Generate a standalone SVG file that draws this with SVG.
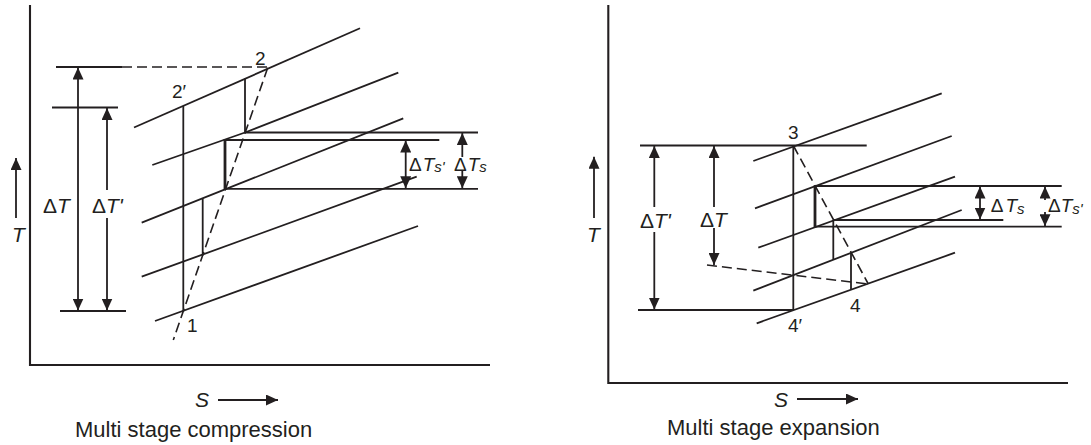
<svg xmlns="http://www.w3.org/2000/svg" width="1091" height="445" viewBox="0 0 1091 445">
<style>
  .ln{stroke:#231f20;stroke-width:1.8;fill:none}
  .ax{stroke:#231f20;stroke-width:2.1;fill:none}
  .thk{stroke:#231f20;stroke-width:2.8;fill:none}
  .ds{stroke:#231f20;stroke-width:1.6;fill:none;stroke-dasharray:10,5}
  .ar{stroke:#231f20;stroke-width:1.8;fill:none;marker-end:url(#ah)}
  .ar2{stroke:#231f20;stroke-width:1.8;fill:none;marker-start:url(#ah);marker-end:url(#ah)}
  text{font-family:"Liberation Sans",Arial,sans-serif;fill:#231f20}
  .lbl{font-size:21px}
  .num{font-size:19px}
  .sm{font-size:19px}
  .sub{font-size:15px;font-style:italic}
  .it{font-style:italic}
  .cap{font-size:22px}
</style>
<defs>
  <marker id="ah" viewBox="0 0 12 11" refX="12" refY="5.5" markerWidth="12" markerHeight="11" orient="auto-start-reverse" markerUnits="userSpaceOnUse">
    <path d="M0,0 L12,5.5 L0,11 z" fill="#231f20"/>
  </marker>
</defs>
<rect width="1091" height="445" fill="#ffffff"/>

<g id="compression">
  <g id="axes-left">
    <polyline class="ax" points="30,5 30,365 490,365"/>
    <line class="ar" x1="16" y1="218" x2="16" y2="158"/>
    <text class="lbl it" x="12" y="242">T</text>
    <line class="ar" x1="218" y1="400" x2="278" y2="400"/>
    <text class="lbl it" x="195" y="407">S</text>
    <text class="cap" x="75" y="437">Multi stage compression</text>
  </g>
  <g id="isobars-left">
    <line class="ln" x1="134" y1="127.5" x2="360" y2="28.3"/>
    <polyline class="ln" points="152.3,165 245,132.5 398.3,72.7"/>
    <line class="ln" x1="141.7" y1="222.7" x2="403.3" y2="118.3"/>
    <line class="ln" x1="141.7" y1="276.7" x2="416.7" y2="176.7"/>
    <line class="ln" x1="155" y1="321" x2="418" y2="226"/>
  </g>
  <g id="process-left">
    <line class="ln" x1="183.3" y1="106" x2="183.3" y2="311.5"/>
    <line class="ln" x1="245" y1="78.5" x2="245" y2="132.5"/>
    <line class="ln" x1="202.7" y1="198.5" x2="202.7" y2="255.5"/>
    <line class="ds" x1="267.7" y1="67.7" x2="173.3" y2="340"/>
    <line class="ln" x1="245" y1="132.5" x2="478" y2="132.5"/>
    <line class="ln" x1="225" y1="140" x2="439.3" y2="140"/>
    <line class="ln" x1="225" y1="188.8" x2="478" y2="188.8"/>
    <line class="thk" x1="225" y1="139" x2="225" y2="189.5"/>
  </g>
  <g id="dims-left">
    <line class="ln" x1="56" y1="67" x2="122" y2="67"/>
    <line class="ds" x1="122" y1="67" x2="267.7" y2="67"/>
    <line class="ln" x1="52" y1="107.5" x2="118" y2="107.5"/>
    <line class="ln" x1="60" y1="311" x2="126" y2="311"/>
    <line class="ar2" x1="78" y1="67.5" x2="78" y2="310.5"/>
    <line class="ar" x1="107" y1="190" x2="107" y2="108"/>
    <line class="ar" x1="107" y1="218" x2="107" y2="310.5"/>
    <line class="ar2" x1="405.7" y1="140.5" x2="405.7" y2="188.3"/>
    <line class="ar" x1="462.3" y1="157" x2="462.3" y2="133"/>
    <line class="ar" x1="462.3" y1="171" x2="462.3" y2="188.3"/>
  </g>
  <g id="labels-left">
    <text class="lbl" x="43" y="213">Δ<tspan class="it">T</tspan></text>
    <text class="lbl" x="92" y="213">Δ<tspan class="it">T'</tspan></text>
    <text class="sm" x="409" y="171">Δ<tspan class="it" dx="1">T</tspan><tspan class="sub" dy="1">s'</tspan></text>
    <text class="sm" x="454" y="171">Δ<tspan class="it" dx="1">T</tspan><tspan class="sub" dy="1">s</tspan></text>
    <text class="num" x="255" y="65">2</text>
    <text class="num" x="172" y="98">2′</text>
    <text class="num" x="187" y="332">1</text>
  </g>
</g>

<g id="expansion">
  <g id="axes-right">
    <polyline class="ax" points="608.3,5 608.3,383 1068,383"/>
    <line class="ar" x1="594" y1="218" x2="594" y2="156.7"/>
    <text class="lbl it" x="587" y="242">T</text>
    <line class="ar" x1="797" y1="399" x2="858" y2="399"/>
    <text class="lbl it" x="774" y="407">S</text>
    <text class="cap" x="667" y="435">Multi stage expansion</text>
  </g>
  <g id="isobars-right">
    <line class="ln" x1="753.3" y1="161" x2="941.7" y2="93.3"/>
    <line class="ln" x1="755" y1="208.3" x2="951.7" y2="136"/>
    <line class="ln" x1="758.3" y1="247.7" x2="955" y2="176.7"/>
    <line class="ln" x1="753.3" y1="290.7" x2="961.7" y2="210"/>
    <line class="ln" x1="756.7" y1="323.3" x2="955" y2="252.7"/>
  </g>
  <g id="process-right">
    <line class="ln" x1="793.3" y1="145.5" x2="793.3" y2="310"/>
    <line class="ds" x1="793.3" y1="145.5" x2="868.3" y2="284"/>
    <line class="ds" x1="707" y1="265" x2="868.3" y2="284"/>
    <line class="ln" x1="833.3" y1="220" x2="833.3" y2="259.5"/>
    <line class="ln" x1="851" y1="253" x2="851" y2="289.5"/>
    <line class="ln" x1="815" y1="186" x2="1061.7" y2="186"/>
    <line class="ln" x1="833.3" y1="220" x2="1003.3" y2="220"/>
    <line class="ln" x1="815" y1="226.7" x2="1061.7" y2="226.7"/>
    <line class="thk" x1="815" y1="185.3" x2="815" y2="227.4"/>
  </g>
  <g id="dims-right">
    <line class="ln" x1="640" y1="145.5" x2="866.7" y2="145.5"/>
    <line class="ln" x1="638" y1="310" x2="793.3" y2="310"/>
    <line class="ar" x1="654.3" y1="207" x2="654.3" y2="146"/>
    <line class="ar" x1="654.3" y1="232" x2="654.3" y2="309.5"/>
    <line class="ar" x1="714" y1="207" x2="714" y2="146"/>
    <line class="ar" x1="714" y1="228" x2="714" y2="265"/>
    <line class="ar2" x1="980" y1="186.5" x2="980" y2="219.5"/>
    <line class="ar" x1="1045" y1="200" x2="1045" y2="186.5"/>
    <line class="ar" x1="1045" y1="212" x2="1045" y2="226.2"/>
  </g>
  <g id="labels-right">
    <text class="lbl" x="640" y="228">Δ<tspan class="it">T'</tspan></text>
    <text class="lbl" x="700" y="227">Δ<tspan class="it">T</tspan></text>
    <text class="sm" x="990.7" y="212">Δ<tspan class="it" dx="2">T</tspan><tspan class="sub" dy="2">s</tspan></text>
    <text class="sm" x="1048" y="212">Δ<tspan class="it">T</tspan><tspan class="sub" dy="2">s'</tspan></text>
    <text class="num" x="788" y="139">3</text>
    <text class="num" x="788" y="332">4′</text>
    <text class="num" x="850" y="312">4</text>
  </g>
</g>
</svg>
